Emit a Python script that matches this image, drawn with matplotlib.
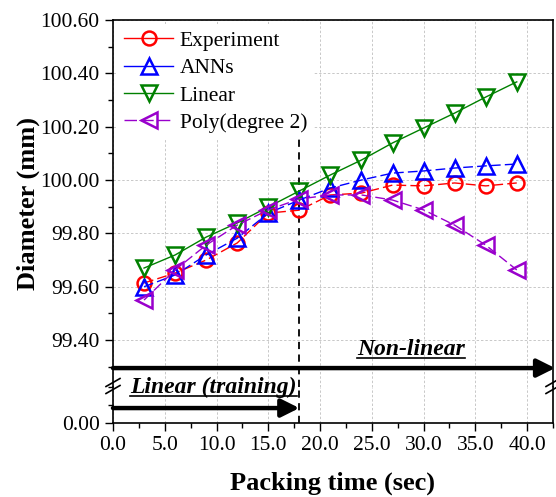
import matplotlib
matplotlib.use('Agg')
import matplotlib.pyplot as plt
from matplotlib.lines import Line2D
from matplotlib.ticker import MultipleLocator, FormatStrFormatter

plt.rcParams['font.family'] = 'Liberation Serif'

# Packing time (sec) and measured / predicted diameters (mm)
time = [3, 6, 9, 12, 15, 18, 21, 24, 27, 30, 33, 36, 39]
experiment = [99.614, 99.651, 99.700, 99.764, 99.876, 99.887, 99.944, 99.951,
              99.981, 99.978, 99.989, 99.978, 99.989]
anns = [99.600, 99.644, 99.719, 99.782, 99.876, 99.925, 99.970, 100.000,
        100.026, 100.034, 100.045, 100.053, 100.060]
linear = [99.670, 99.719, 99.786, 99.839, 99.899, 99.959, 100.019, 100.075,
          100.139, 100.195, 100.251, 100.311, 100.368]
poly = [99.550, 99.663, 99.756, 99.831, 99.888, 99.929, 99.944, 99.944,
        99.925, 99.888, 99.831, 99.756, 99.663]

t_split = 18

fig = plt.figure(figsize=(5.56, 4.97), dpi=100)
ax = fig.add_axes([0.2032, 0.2213, 0.7914, 0.7385])
ax_low = fig.add_axes([0.2032, 0.1489, 0.7914, 0.0724])

y_top_lo, y_top_hi = 99.224, 100.6

grid_kw = dict(color='#c8c8c8', ls=(0, (2.5, 2)), lw=0.7)

series = [
    (experiment, 'red', (0, (7, 3)), 'o', 10, 'Experiment'),
    (anns, 'blue', (0, (7, 3)), '^', 11, 'ANNs'),
    (linear, 'green', '-', 'v', 11, 'Linear'),
    (poly, '#9900cc', (0, (7, 3)), '<', 11, 'Poly(degree 2)'),
]

# upper part of the broken axis
handles = []
for vals, col, ls, mk, ms, lab in series:
    ax.plot(time, vals, color=col, ls=ls, lw=1, marker=mk, ms=ms, mfc='none',
            mew=1.8, zorder=4)
    hls = (0, (9, 3)) if lab.startswith('Poly') else '-'
    handles.append(Line2D([], [], color=col, ls=hls, lw=1, marker=mk, ms=ms,
                          mfc='none', mew=1.8, label=lab))

ax.plot([t_split, t_split], [y_top_lo, 100.165], color='k', ls=(0, (4, 3)), lw=1.3, zorder=2)

ax.set_xlim(0, 42.5)
ax.set_ylim(y_top_lo, y_top_hi)
ax.yaxis.set_major_locator(MultipleLocator(0.2))
ax.yaxis.set_minor_locator(MultipleLocator(0.1))
ax.yaxis.set_major_formatter(FormatStrFormatter('%.2f'))
ax.xaxis.set_major_locator(MultipleLocator(5))
ax.grid(True, **grid_kw)
ax.set_axisbelow(True)
ax.tick_params(axis='x', which='both', bottom=False, labelbottom=False)
ax.tick_params(axis='y', which='major', length=6, width=1, labelsize=15.5, direction='out')
ax.tick_params(axis='y', which='minor', length=3.5, width=1, direction='out')
ax.spines['bottom'].set_visible(False)
for s in ax.spines.values():
    s.set_linewidth(1.2)

leg = ax.legend(handles=handles, loc='upper left', fontsize=15.5, frameon=True,
                edgecolor='none', facecolor='white', framealpha=1, handlelength=2.3,
                labelspacing=0.34, borderaxespad=0.2, handletextpad=0.3, borderpad=0.3)
leg.set_zorder(5)

# lower part of the broken axis
ax_low.set_xlim(0, 42.5)
ax_low.set_ylim(0, 0.2)
ax_low.yaxis.set_minor_locator(MultipleLocator(0.1))
ax_low.set_yticks([0.0])
ax_low.yaxis.set_major_formatter(FormatStrFormatter('%.2f'))
ax_low.xaxis.set_major_locator(MultipleLocator(5))
ax_low.xaxis.set_minor_locator(MultipleLocator(2.5))
ax_low.xaxis.set_major_formatter(FormatStrFormatter('%.1f'))
ax_low.grid(True, axis='x', **grid_kw)
ax_low.tick_params(which='major', length=6, width=1, labelsize=15.5, direction='out')
ax_low.tick_params(which='minor', length=3.5, width=1, direction='out')
ax_low.spines['top'].set_visible(False)
for s in ax_low.spines.values():
    s.set_linewidth(1.2)
ax_low.axvline(t_split, color='k', ls=(0, (4, 3)), lw=1.3)

ax_low.set_xlabel('Packing time (sec)', fontsize=19, fontweight='bold', labelpad=12)
fig.text(0.05, 0.59, 'Diameter (mm)', rotation=90, fontsize=19, fontweight='bold',
         ha='center', va='center')

# region arrows
arrow_kw = dict(arrowstyle='-|>,head_length=0.9,head_width=0.45', lw=3.2, color='k',
                shrinkA=0, shrinkB=0, mutation_scale=12)
ax.annotate('', xy=(42.7, 99.295), xytext=(0, 99.295), arrowprops=arrow_kw,
            annotation_clip=False)
ax_low.annotate('', xy=(t_split, 0.083), xytext=(0, 0.083), arrowprops=arrow_kw,
                annotation_clip=False)

txt_nl = ax.text(28.8, 99.344, 'Non-linear', fontsize=17, fontweight='bold',
                 fontstyle='italic', ha='center', va='baseline')
txt_lt = ax_low.text(9.71, 0.167, 'Linear (training)', fontsize=17, fontweight='bold',
                     fontstyle='italic', ha='center', va='baseline', clip_on=False)

# underline both labels
fig.canvas.draw()
inv = fig.transFigure.inverted()
for t in (txt_nl, txt_lt):
    bb = t.get_window_extent()
    base = t.get_transform().transform(t.get_position())[1]
    y = base - 3
    (x0, y0), (x1, y1) = inv.transform([(bb.x0, y), (bb.x1, y)])
    fig.add_artist(Line2D([x0, x1], [y0, y1], color='k', lw=1.2))

# break marks on both spines
h = 497
yb = h - 386
for xs in (113, 553):
    for d in (-3.5, 3.5):
        pts = inv.transform([(xs - 7, yb - 4 + d), (xs + 7, yb + 4 + d)])
        fig.add_artist(Line2D(pts[:, 0], pts[:, 1], color='k', lw=1.2))

fig.savefig('out.png', dpi=100)
